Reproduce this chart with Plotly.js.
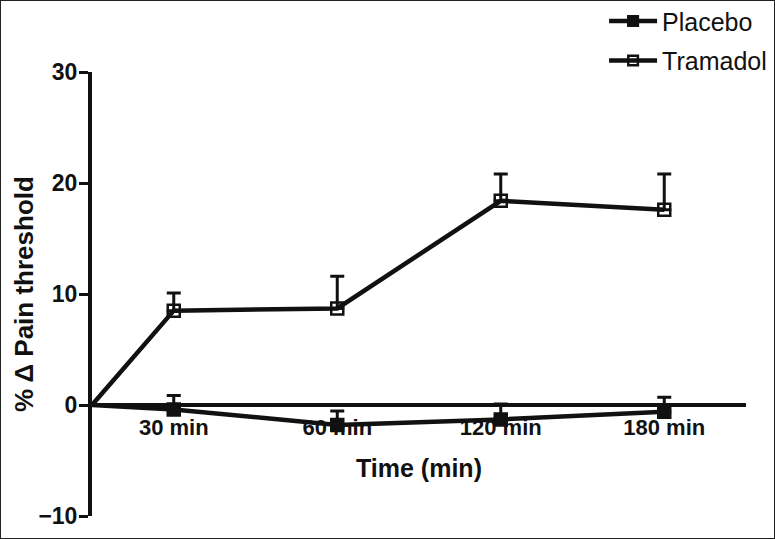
<!DOCTYPE html>
<html>
<head>
<meta charset="utf-8">
<script src="https://cdn.plot.ly/plotly-3.0.1.min.js"></script>
<style>
  body { margin: 0; background: #fff; }
  #chart { width: 775px; height: 539px; box-sizing: border-box; border: 1px solid #222; }
</style>
</head>
<body>
<div id="chart"></div>
<script>
// x positions: baseline at 0, then one slot per time point
const xPos = [0, 0.5, 1.5, 2.5, 3.5]
const tickPos = [0.5, 1.5, 2.5, 3.5]
const tickLabels = ['30 min', '60 min', '120 min', '180 min']

const placebo = [0, -0.4, -1.8, -1.3, -0.6]
const placeboErr = [0, 1.25, 1.25, 1.4, 1.3]
const tramadol = [0, 8.5, 8.7, 18.4, 17.6]
const tramadolErr = [0, 1.6, 2.9, 2.4, 3.2]

const ink = '#111'
const fontFamily = '"Liberation Sans", Arial, sans-serif'

const makeTrace = (name, y, err, symbol, group) => ({
  x: xPos,
  y: y,
  name: name,
  legendgroup: group,
  type: 'scatter',
  mode: 'lines+markers',
  cliponaxis: false,
  line: { color: ink, width: 4.5 },
  marker: {
    symbol: symbol,
    // no marker at the baseline point
    size: [0, 12, 12, 12, 12],
    opacity: 1,
    color: ink,
    line: { color: ink, width: 2.5 }
  },
  error_y: {
    type: 'data',
    symmetric: false,
    array: err,
    arrayminus: err.map(() => 0),
    color: ink,
    thickness: 3,
    width: 7
  }
})

const data = [
  makeTrace('Placebo', placebo, placeboErr, 'square', 'a'),
  makeTrace('Tramadol', tramadol, tramadolErr, 'square-open', 'b')
]

const layout = {
  width: 773,
  height: 537,
  margin: { l: 91, r: 28, t: 71, b: 22, autoexpand: false },
  paper_bgcolor: '#fff',
  plot_bgcolor: '#fff',
  font: { family: fontFamily, color: ink },
  showlegend: true,
  legend: {
    x: 0.783,
    y: 1.166,
    xanchor: 'left',
    yanchor: 'top',
    font: { size: 25, color: ink },
    tracegroupgap: 4,
    itemwidth: 48,
    bgcolor: 'rgba(0,0,0,0)'
  },
  annotations: [{
    // y axis title, sits left of the tick labels
    text: '% \u0394 Pain threshold',
    xref: 'paper', yref: 'paper',
    x: 0, y: 0.5,
    xanchor: 'center', yanchor: 'middle',
    xshift: -68,
    textangle: -90,
    showarrow: false,
    font: { size: 26, weight: 'bold', color: ink }
  }],
  xaxis: {
    range: [0, 4],
    anchor: 'free',
    position: 0.25,
    layer: 'below traces',
    showgrid: false,
    zeroline: false,
    showline: true,
    linecolor: ink,
    linewidth: 4,
    tickvals: tickPos,
    ticktext: tickLabels,
    ticks: 'outside',
    ticklen: 2,
    tickcolor: 'rgba(0,0,0,0)',
    tickfont: { size: 22, weight: 'bold', color: ink },
    title: { text: 'Time (min)', font: { size: 25, weight: 'bold', color: ink }, standoff: 19 }
  },
  yaxis: {
    range: [-10, 30],
    showgrid: false,
    zeroline: false,
    showline: true,
    linecolor: ink,
    linewidth: 4,
    tickvals: [-10, 0, 10, 20, 30],
    ticks: 'outside',
    ticklen: 9,
    tickwidth: 3,
    tickcolor: ink,
    ticklabelstandoff: -3,
    tickfont: { size: 23, weight: 'bold', color: ink }
  }
}

Plotly.newPlot('chart', data, layout, { displayModeBar: false, displaylogo: false })
</script>
</body>
</html>
